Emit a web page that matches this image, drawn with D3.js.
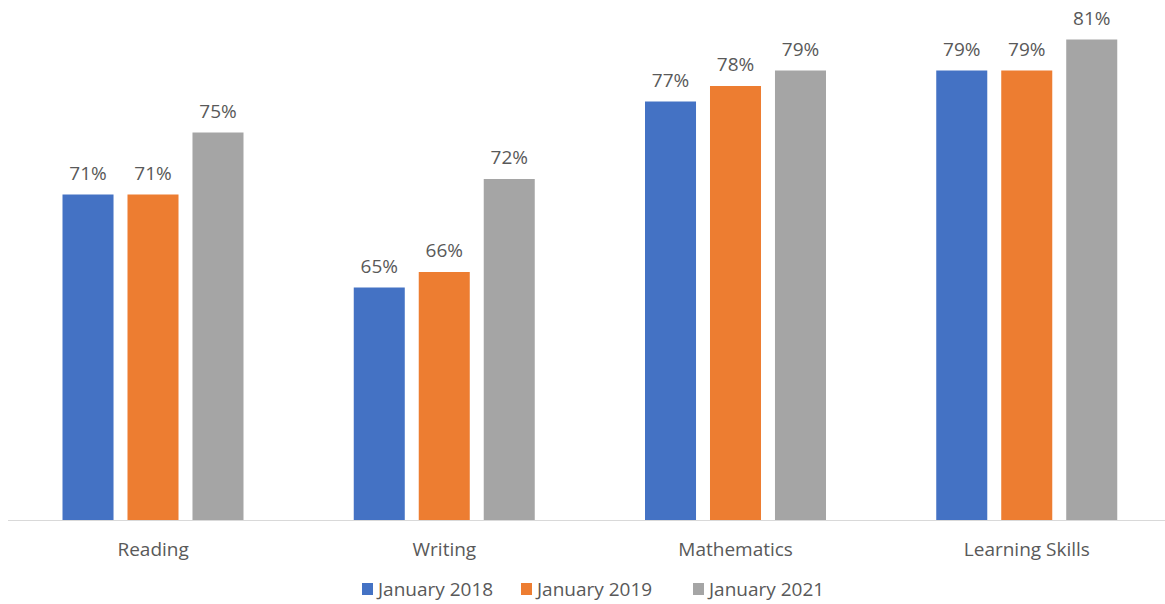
<!DOCTYPE html>
<html>
<head>
<meta charset="utf-8">
<script src="https://cdn.jsdelivr.net/npm/d3@7"></script>
<style>
  html, body { margin: 0; padding: 0; background: #fff; }
  svg { display: block; }
  text { font-family: "Open Sans", "Noto Sans", sans-serif; fill: #595959; }
</style>
</head>
<body>
<svg id="chart" width="1165" height="604"></svg>
<script>
const categories = ["Reading", "Writing", "Mathematics", "Learning Skills"];
const seriesNames = ["January 2018", "January 2019", "January 2021"];
const jan2018 = [71, 65, 77, 79];
const jan2019 = [71, 66, 78, 79];
const jan2021 = [75, 72, 79, 81];
const seriesColors = ["#4472C4", "#ED7D31", "#A5A5A5"];

const seriesValues = [jan2018, jan2019, jan2021];
const data = categories.map((c, i) => ({
  category: c,
  values: seriesNames.map((s, j) => ({ series: s, value: seriesValues[j][i], color: seriesColors[j] }))
}));

const svg = d3.select("#chart");
const baseline = 520;

const x0 = d3.scaleBand().domain(categories).range([7.5, 1172.5]).padding(0);
const x1 = d3.scaleBand().domain(seriesNames).range([55, 236]).paddingInner(0.215).paddingOuter(0);
const y = d3.scaleLinear().domain([50, 82]).range([baseline, baseline - 32 * 15.5]);

// axis line
svg.append("line")
  .attr("x1", 8).attr("x2", 1165)
  .attr("y1", baseline + 0.5).attr("y2", baseline + 0.5)
  .attr("stroke", "#d9d9d9").attr("stroke-width", 1);

const groups = svg.selectAll("g.cat").data(data).enter().append("g")
  .attr("class", "cat")
  .attr("transform", d => `translate(${x0(d.category)},0)`);

groups.selectAll("rect").data(d => d.values).enter().append("rect")
  .attr("x", d => x1(d.series))
  .attr("width", x1.bandwidth())
  .attr("y", d => y(d.value))
  .attr("height", d => baseline - y(d.value))
  .attr("fill", d => d.color);

groups.selectAll("text.val").data(d => d.values).enter().append("text")
  .attr("class", "val")
  .attr("x", d => x1(d.series) + x1.bandwidth() / 2)
  .attr("y", d => y(d.value) - 15)
  .attr("text-anchor", "middle")
  .attr("font-size", 19)
  .text(d => d.value + "%");

// category labels
svg.selectAll("text.cat").data(categories).enter().append("text")
  .attr("class", "cat")
  .attr("x", d => x0(d) + x0.bandwidth() / 2)
  .attr("y", 556)
  .attr("text-anchor", "middle")
  .attr("font-size", 19)
  .text(d => d);

// legend
const legendX = [362, 521, 693];
const legend = svg.selectAll("g.leg").data(seriesNames).enter().append("g")
  .attr("class", "leg")
  .attr("transform", (d, i) => `translate(${legendX[i]},0)`);
legend.append("rect")
  .attr("x", 0).attr("y", 583).attr("width", 11).attr("height", 12)
  .attr("fill", (d, i) => seriesColors[i]);
legend.append("text")
  .attr("x", 16).attr("y", 596)
  .attr("font-size", 19)
  .text(d => d);
</script>
</body>
</html>
